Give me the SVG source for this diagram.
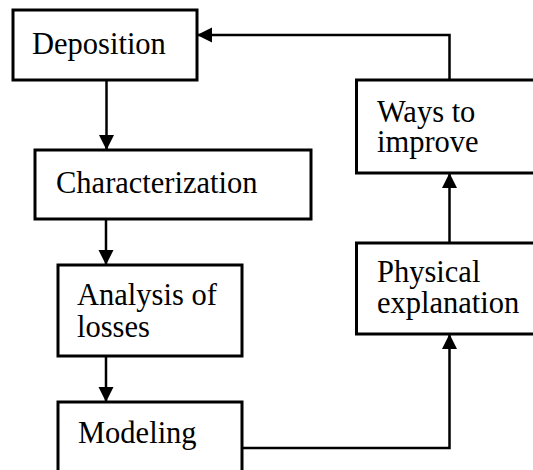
<svg xmlns="http://www.w3.org/2000/svg" width="533" height="470" viewBox="0 0 533 470">
<style>
.box{fill:#fff;stroke:#000;stroke-width:3}
.lbl{font-family:"Liberation Serif","Times New Roman",serif;font-size:30.5px;fill:#000}
.con{fill:none;stroke:#000;stroke-width:2.5}
</style>
<defs>
<marker id="ah" markerUnits="userSpaceOnUse" markerWidth="16" markerHeight="16" refX="15" refY="7.5" orient="auto">
<path d="M0,0 L15,7.5 L0,15 z" fill="#000"/>
</marker>
</defs>
<rect width="533" height="470" fill="#fff"/>
<g id="deposition">
<rect class="box" x="13" y="10" width="184" height="70"/>
<text class="lbl" x="32" y="54">Deposition</text>
</g>
<g id="characterization">
<rect class="box" x="35" y="150" width="276" height="69"/>
<text class="lbl" x="56" y="193">Characterization</text>
</g>
<g id="analysis">
<rect class="box" x="58" y="265" width="184" height="91"/>
<text class="lbl" x="77" y="305">Analysis of</text>
<text class="lbl" x="77" y="337">losses</text>
</g>
<g id="modeling">
<rect class="box" x="58" y="402" width="184" height="80"/>
<text class="lbl" x="78" y="443">Modeling</text>
</g>
<g id="ways">
<rect class="box" x="356.5" y="80" width="190" height="93"/>
<text class="lbl" x="377" y="122">Ways to</text>
<text class="lbl" x="377" y="152">improve</text>
</g>
<g id="physical">
<rect class="box" x="356.5" y="243" width="190" height="91"/>
<text class="lbl" x="377" y="282">Physical</text>
<text class="lbl" x="377" y="313">explanation</text>
</g>
<g id="connectors">
<path class="con" d="M106.5,80 V150" marker-end="url(#ah)"/>
<path class="con" d="M106,219 V265" marker-end="url(#ah)"/>
<path class="con" d="M106,356 V402" marker-end="url(#ah)"/>
<path class="con" d="M242,448 H449.5 V334" marker-end="url(#ah)"/>
<path class="con" d="M449.5,243 V173" marker-end="url(#ah)"/>
<path class="con" d="M449.5,80 V35 H197" marker-end="url(#ah)"/>
</g>
</svg>
